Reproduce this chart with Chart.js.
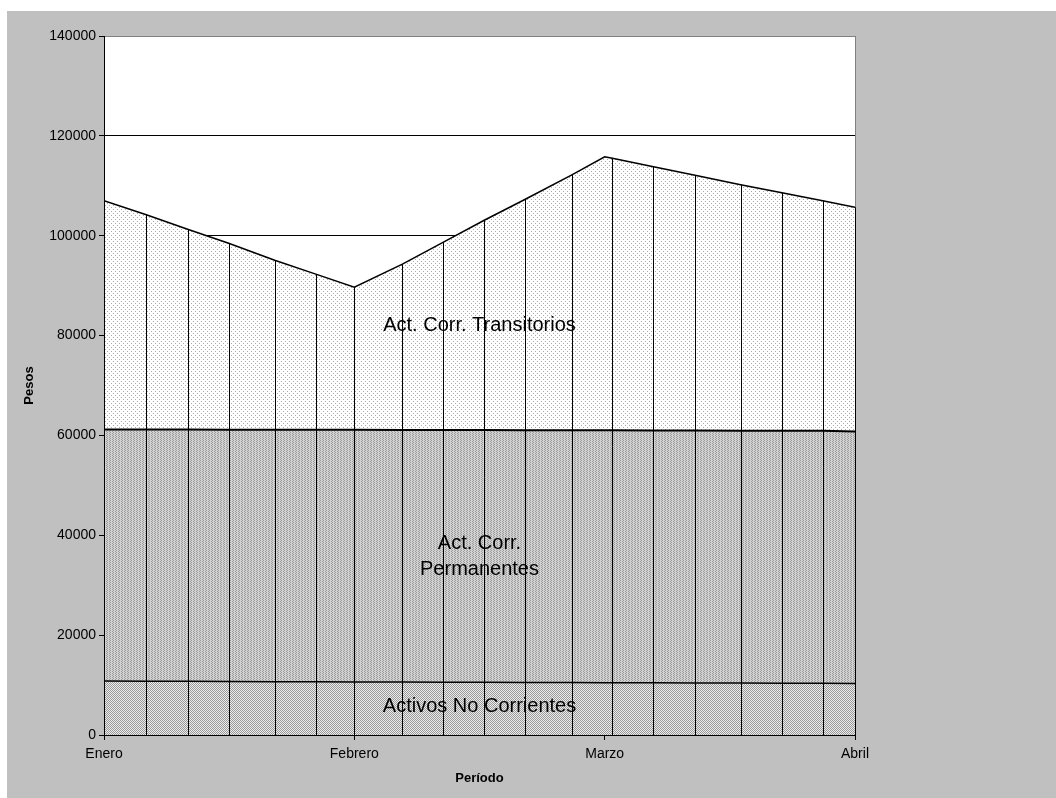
<!DOCTYPE html>
<html>
<head>
<meta charset="utf-8">
<script src="https://cdn.jsdelivr.net/npm/chart.js@4.4.0/dist/chart.umd.min.js"></script>
<style>
  html, body { margin: 0; padding: 0; background: #fff; }
  #marco { position: absolute; left: 7px; top: 11px; width: 1049px; height: 787px; background: #c0c0c0; }
  canvas { display: block; }
</style>
</head>
<body>
<div id="marco"><canvas id="grafico" width="1049" height="787"></canvas></div>
<script>
// Periodo en meses desde Enero (0 = Enero, 3 = Abril)
const meses = ['Enero', 'Febrero', 'Marzo', 'Abril'];
const periodos = [0, 0.169, 0.334, 0.498, 0.682, 0.846, 1.0, 1.192, 1.356, 1.519, 1.683, 1.869, 2.0, 2.031, 2.195, 2.361, 2.543, 2.708, 2.871, 3.0];

const noCorrientes = [10800, 10780, 10750, 10700, 10680, 10650, 10620, 10600, 10580, 10560, 10540, 10500, 10480, 10480, 10450, 10420, 10400, 10380, 10350, 10300];
const permanentes  = [50400, 50400, 50420, 50450, 50450, 50480, 50500, 50500, 50500, 50520, 50520, 50550, 50550, 50550, 50560, 50560, 50560, 50570, 50580, 50500];
const transitorios = [45800, 43020, 40130, 37350, 33970, 31170, 28580, 33200, 37620, 42020, 46240, 51150, 54770, 54470, 52790, 51120, 49240, 47650, 46070, 44900];

const yTicks = [0, 20000, 40000, 60000, 80000, 100000, 120000, 140000];
const puntoSinLinea = 12; // el vertice de Marzo no lleva linea vertical

const FUENTE = "'Liberation Sans', Arial, sans-serif";

function patron(w, h, pintar) {
  const c = document.createElement('canvas');
  c.width = w; c.height = h;
  const g = c.getContext('2d');
  pintar(g);
  return g.createPattern(c, 'repeat');
}

const patTransitorios = patron(4, 4, g => {
  g.fillStyle = '#fff'; g.fillRect(0, 0, 4, 4);
  g.fillStyle = '#a8a8a8';
  g.fillRect(0, 0, 1, 1); g.fillRect(2, 2, 1, 1);
});
const patPermanentes = patron(3, 2, g => {
  g.fillStyle = '#d2d2d2'; g.fillRect(0, 0, 3, 2);
  g.fillStyle = '#9a9a9a';
  g.fillRect(0, 0, 1, 1); g.fillRect(1, 1, 1, 1);
});
const patNoCorrientes = patron(2, 2, g => {
  g.fillStyle = '#ececec'; g.fillRect(0, 0, 2, 2);
  g.fillStyle = '#9a9a9a';
  g.fillRect(0, 0, 1, 1); g.fillRect(1, 1, 1, 1);
});

const serie = vals => periodos.map((p, i) => ({ x: p, y: vals[i] }));

const fondoArea = {
  id: 'fondoArea',
  beforeDraw(chart) {
    const { ctx, chartArea: a } = chart;
    ctx.save();
    ctx.fillStyle = '#fff';
    ctx.fillRect(a.left, a.top, a.right - a.left, a.bottom - a.top);
    ctx.restore();
  }
};

const lineasYTextos = {
  id: 'lineasYTextos',
  afterDatasetsDraw(chart) {
    const { ctx, scales: { x, y } } = chart;
    const meta = chart.getDatasetMeta(2);
    const base = y.getPixelForValue(0);
    ctx.save();
    ctx.strokeStyle = '#000';
    ctx.lineWidth = 1;
    meta.data.forEach((pt, i) => {
      if (i === puntoSinLinea) return;
      const px = Math.round(pt.x) + 0.5;
      ctx.beginPath();
      ctx.moveTo(px, base);
      ctx.lineTo(px, pt.y);
      ctx.stroke();
    });

    ctx.fillStyle = '#000';
    ctx.font = '20px ' + FUENTE;
    ctx.textAlign = 'center';
    ctx.textBaseline = 'middle';
    const cx = x.getPixelForValue(1.5);
    ctx.fillText('Act. Corr. Transitorios', cx, y.getPixelForValue(82100));
    ctx.fillText('Act. Corr.', cx, y.getPixelForValue(38400));
    ctx.fillText('Permanentes', cx, y.getPixelForValue(33200));
    ctx.fillText('Activos No Corrientes', cx, y.getPixelForValue(5800));
    ctx.restore();
  }
};

new Chart(document.getElementById('grafico'), {
  type: 'line',
  data: {
    datasets: [
      { label: 'Activos No Corrientes', data: serie(noCorrientes), fill: 'origin', backgroundColor: patNoCorrientes, borderColor: '#000', borderWidth: 1.5 },
      { label: 'Act. Corr. Permanentes', data: serie(permanentes), fill: '-1', backgroundColor: patPermanentes, borderColor: '#000', borderWidth: 2 },
      { label: 'Act. Corr. Transitorios', data: serie(transitorios), fill: '-1', backgroundColor: patTransitorios, borderColor: '#000', borderWidth: 1.5 }
    ]
  },
  options: {
    responsive: false,
    animation: false,
    layout: { padding: { left: 0, right: 201, top: 25, bottom: 0 } },
    elements: { point: { radius: 0 }, line: { tension: 0 } },
    plugins: { legend: { display: false }, tooltip: { enabled: false } },
    scales: {
      x: {
        type: 'linear', min: 0, max: 3,
        afterFit: s => { s.height = 63; },
        afterBuildTicks: s => { s.ticks = meses.map((m, i) => ({ value: i })); },
        ticks: { callback: v => meses[v], color: '#000', font: { family: FUENTE, size: 14 }, padding: 6, maxRotation: 0, autoSkip: false },
        grid: {
          drawOnChartArea: true,
          color: c => (c.tick && c.tick.value === 3) ? '#808080' : 'rgba(0,0,0,0)',
          tickColor: '#000', tickLength: 5, lineWidth: 1
        },
        border: { color: '#000', width: 1 },
        title: { display: true, text: 'Período', color: '#000', font: { family: FUENTE, size: 13, weight: 'bold' }, padding: { top: 0, bottom: 12 } }
      },
      y: {
        stacked: true, min: 0, max: 140000,
        afterFit: s => { s.width = 97; },
        afterBuildTicks: s => { s.ticks = yTicks.map(v => ({ value: v })); },
        ticks: { callback: v => String(v), color: '#000', font: { family: FUENTE, size: 14 }, padding: 3 },
        grid: {
          color: c => (c.tick && c.tick.value === 140000) ? '#808080' : '#000',
          tickColor: '#000', tickLength: 5, lineWidth: 1
        },
        border: { color: '#000', width: 1 },
        title: { display: true, text: 'Pesos', color: '#000', font: { family: FUENTE, size: 13, weight: 'bold' }, padding: { top: 15, bottom: 0 } }
      }
    }
  },
  plugins: [fondoArea, lineasYTextos]
});
</script>
</body>
</html>
